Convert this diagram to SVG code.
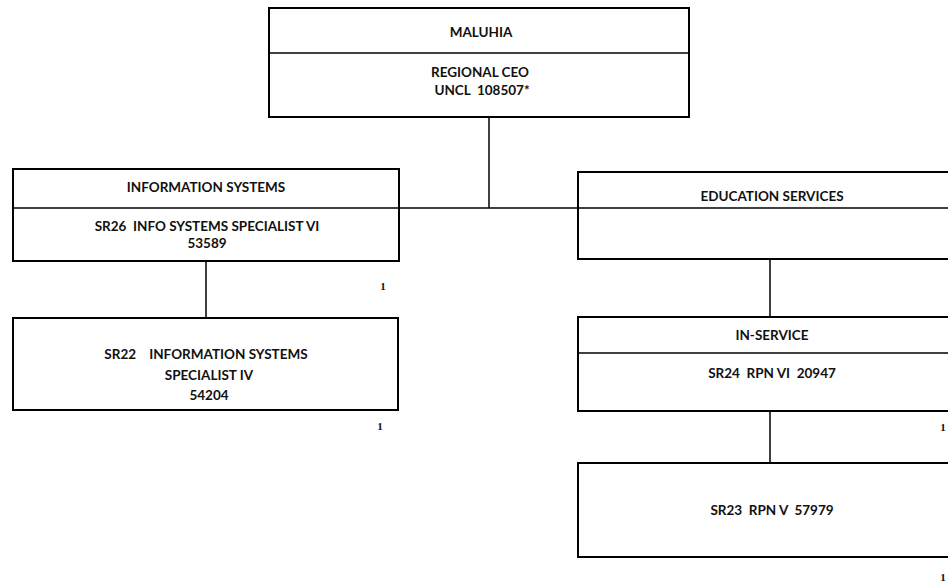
<svg xmlns="http://www.w3.org/2000/svg" width="948" height="584" viewBox="0 0 948 584">
<style>
.box{fill:#fff;stroke:#000;stroke-width:2}
.div{stroke:#000;stroke-width:1.5}
.conn{stroke:#000;stroke-width:1.5;fill:none}
.t{font-family:Lato,"Liberation Sans",sans-serif;font-weight:bold;font-size:13.5px;fill:#111;text-anchor:middle;white-space:pre}
.n{font-family:"Liberation Serif",serif;font-weight:bold;font-size:11px;fill:#111;text-anchor:middle}
</style>
<rect width="948" height="584" fill="#fff"/>
<g id="connectors">
<line class="conn" x1="489" y1="117" x2="489" y2="208"/>
<line class="conn" x1="399" y1="208" x2="578" y2="208"/>
<line class="conn" x1="206" y1="261" x2="206" y2="318"/>
<line class="conn" x1="770" y1="259" x2="770" y2="317"/>
<line class="conn" x1="770" y1="411" x2="770" y2="463"/>
</g>
<g id="maluhia">
<rect class="box" x="269" y="8" width="420" height="109"/>
<line class="div" x1="269" y1="53" x2="689" y2="53"/>
<text class="t" x="481" y="37">MALUHIA</text>
<text class="t" x="480" y="77">REGIONAL CEO</text>
<text class="t" x="482" y="95">UNCL  108507*</text>
</g>
<g id="infosys">
<rect class="box" x="13" y="169" width="386" height="92"/>
<line class="div" x1="13" y1="208" x2="399" y2="208"/>
<text class="t" x="206" y="192">INFORMATION SYSTEMS</text>
<text class="t" x="207" y="231">SR26  INFO SYSTEMS SPECIALIST VI</text>
<text class="t" x="207" y="248">53589</text>
<text class="n" x="383" y="290">1</text>
</g>
<g id="sr22">
<rect class="box" x="13" y="318" width="385" height="92"/>
<text class="t" x="206" y="359">SR22    INFORMATION SYSTEMS</text>
<text class="t" x="209" y="380">SPECIALIST IV</text>
<text class="t" x="209" y="400">54204</text>
<text class="n" x="380" y="430">1</text>
</g>
<g id="education">
<rect class="box" x="578" y="172" width="388" height="87"/>
<line class="div" x1="578" y1="208" x2="966" y2="208"/>
<text class="t" x="772" y="201">EDUCATION SERVICES</text>
</g>
<g id="inservice">
<rect class="box" x="578" y="317" width="388" height="94"/>
<line class="div" x1="578" y1="353" x2="966" y2="353"/>
<text class="t" x="772" y="340">IN-SERVICE</text>
<text class="t" x="772" y="378">SR24  RPN VI  20947</text>
<text class="n" x="943" y="431">1</text>
</g>
<g id="sr23">
<rect class="box" x="578" y="463" width="388" height="94"/>
<text class="t" x="772" y="515">SR23  RPN V  57979</text>
<text class="n" x="943" y="581">1</text>
</g>
</svg>
